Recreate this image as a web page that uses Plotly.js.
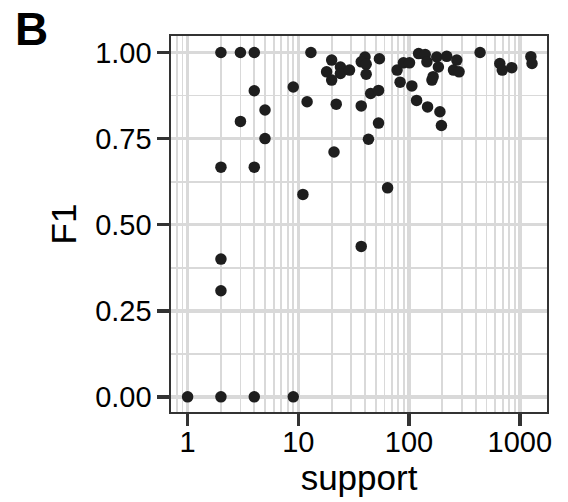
<!DOCTYPE html>
<html>
<head>
<meta charset="utf-8">
<script src="https://cdn.plot.ly/plotly-3.0.1.min.js"></script>
<style>
html,body{margin:0;padding:0;background:#fff;}
#chart{width:568px;height:502px;}
</style>
</head>
<body>
<div id="chart"></div>
<script>
// support (x, log scale) and F1 (y)
const support = [
  1, 2, 4, 9,
  2, 2, 2, 4,
  2, 3, 4, 3, 4, 5, 5, 9, 11, 12, 13,
  18, 20, 20, 24, 24, 29, 21, 22,
  37, 37, 40, 37, 41, 41, 43, 45, 53, 53, 54, 64,
  78, 89, 101, 83, 106, 117, 147, 190, 196,
  122, 140, 145, 178, 184, 161, 165, 219, 270, 252, 283,
  438, 660, 695, 847, 1260, 1290
];
const f1 = [
  0, 0, 0, 0,
  0.308, 0.40, 0.667, 0.667,
  1.0, 1.0, 1.0, 0.80, 0.889, 0.833, 0.75, 0.90, 0.588, 0.857, 1.0,
  0.944, 0.978, 0.92, 0.958, 0.939, 0.949, 0.711, 0.85,
  0.845, 0.437, 0.987, 0.973, 0.966, 0.937, 0.748, 0.881, 0.89, 0.795, 0.982, 0.607,
  0.949, 0.97, 0.97, 0.914, 0.903, 0.861, 0.842, 0.828, 0.788,
  0.997, 0.994, 0.973, 0.987, 0.958, 0.92, 0.93, 0.989, 0.978, 0.949, 0.944,
  1.0, 0.968, 0.949, 0.956, 0.988, 0.968
];
const xTickVals = [1, 10, 100, 1000];
const xTickText = ["1", "10", "100", "1000"];
const yTickVals = [0, 0.25, 0.5, 0.75, 1.0];
const yTickText = ["0.00", "0.25", "0.50", "0.75", "1.00"];

const FONT = "Liberation Sans, Arial, Helvetica, sans-serif";
const GRID = "#d9d9d9";
const AXIS = "#333333";

const trace = {
  type: "scatter",
  mode: "markers",
  x: support,
  y: f1,
  marker: {color: "#1e1e1e", size: 11.5, line: {width: 0}},
  hoverinfo: "x+y",
  showlegend: false
};

const layout = {
  width: 568,
  height: 502,
  margin: {l: 171, r: 21, t: 36, b: 90},
  paper_bgcolor: "#ffffff",
  plot_bgcolor: "#ffffff",
  font: {family: FONT, color: "#000000", size: 29},
  xaxis: {
    type: "log",
    range: [-0.15, 3.246],
    tickvals: xTickVals,
    ticktext: xTickText,
    ticks: "outside",
    ticklen: 12,
    tickwidth: 3.5,
    tickcolor: AXIS,
    ticklabelstandoff: -8,
    tickfont: {family: FONT, size: 29, color: "#000"},
    showgrid: true,
    gridcolor: GRID,
    gridwidth: 3.5,
    minor: {dtick: "D1", showgrid: true, gridcolor: GRID, gridwidth: 1.8, ticks: ""},
    showline: true,
    linecolor: AXIS,
    linewidth: 1.6,
    mirror: true,
    zeroline: false,
    title: {text: "support", font: {family: FONT, size: 35, color: "#000"}, standoff: 2}
  },
  yaxis: {
    range: [-0.044, 1.048],
    tickvals: yTickVals,
    ticktext: yTickText,
    ticks: "outside",
    ticklen: 12,
    tickwidth: 3.5,
    tickcolor: AXIS,
    tickfont: {family: FONT, size: 29, color: "#000"},
    showgrid: true,
    gridcolor: GRID,
    gridwidth: 3.5,
    minor: {dtick: 0.125, showgrid: true, gridcolor: GRID, gridwidth: 1.8, ticks: ""},
    showline: true,
    linecolor: AXIS,
    linewidth: 1.6,
    mirror: true,
    zeroline: false,
    title: {text: "F1", font: {family: FONT, size: 35, color: "#000"}, standoff: 8}
  },
  annotations: [{
    text: "<b>B</b>",
    xref: "paper", yref: "paper",
    x: -0.42, y: 1.093,
    xanchor: "left", yanchor: "top",
    showarrow: false,
    font: {family: FONT, size: 46, color: "#000"}
  }]
};

Plotly.newPlot("chart", [trace], layout, {displayModeBar: false, staticPlot: true});
</script>
</body>
</html>
